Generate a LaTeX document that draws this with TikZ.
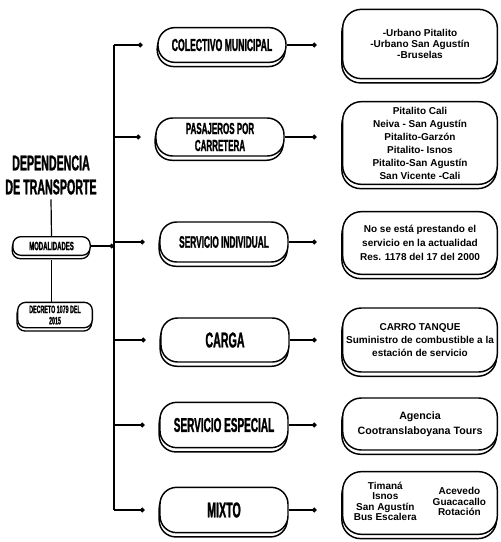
\documentclass[tikz,border=0pt]{standalone}
\usepackage{fontspec}
\setmainfont{Liberation Sans}
\newfontfamily\condfont{Liberation Sans}[FakeStretch=0.5,FakeBold=1.2]
\usetikzlibrary{shadows,arrows.meta}
\begin{document}
\begin{tikzpicture}[x=0.75pt,y=-0.75pt,
  shad/.style={copy shadow={shadow xshift=-0.6pt, shadow yshift=-3.2pt, draw=black, fill=white, line width=1.1pt}},
  pill/.style={draw, line width=1.1pt, fill=white, rounded corners=12.5pt, minimum width=96pt, minimum height=30pt, align=center, inner sep=2pt, font=\condfont\bfseries, shad},
  small/.style={draw, line width=1pt, fill=white, rounded corners=6pt, align=center, inner sep=1pt, font=\condfont\bfseries, copy shadow={shadow xshift=-0.5pt, shadow yshift=-2.5pt, draw=black, fill=white, line width=1pt}},
  rbox/.style={draw, line width=1.1pt, fill=white, rounded corners=14pt, minimum width=116pt, align=center, inner sep=2pt, font=\bfseries\fontsize{7.5}{9.75}\selectfont, shad},
  conn/.style={line width=0.9pt},
  tip/.style={conn, -{Circle[length=3.5pt]}},
]
\useasboundingbox (0,0) rectangle (500,542);
\coordinate (trunk) at (114,0);

% left column
\node[align=center, font=\condfont\bfseries\fontsize{16}{18}\selectfont] (dep) at (51,175) {DEPENDENCIA\\DE TRANSPORTE};
\node[small, minimum width=58pt, minimum height=14pt, font=\condfont\bfseries\fontsize{9}{10}\selectfont] (mod) at (51.5,246) {MODALIDADES};
\node[small, minimum width=56pt, minimum height=19pt, font=\condfont\bfseries\fontsize{8}{8.5}\selectfont] (dec) at (55,315) {DECRETO 1079 DEL\\2015};

% middle column
\node[pill, minimum height=26pt, font=\condfont\bfseries\fontsize{13}{14}\selectfont] (c1) at (222,45) {COLECTIVO MUNICIPAL};
\node[pill, minimum height=28.5pt, font=\condfont\bfseries\fontsize{12}{12.75}\selectfont] (c2) at (220,137) {PASAJEROS POR\\CARRETERA};
\node[pill, minimum height=30pt, font=\condfont\bfseries\fontsize{12.5}{14}\selectfont] (c3) at (224,242) {SERVICIO INDIVIDUAL};
\node[pill, minimum height=33pt, font=\condfont\bfseries\fontsize{16}{17}\selectfont] (c4) at (225,340) {CARGA};
\node[pill, minimum height=34pt, font=\condfont\bfseries\fontsize{15}{16}\selectfont] (c5) at (224,425) {SERVICIO ESPECIAL};
\node[pill, minimum height=34pt, font=\condfont\bfseries\fontsize{16}{17}\selectfont] (c6) at (224,510) {MIXTO};

% right column
\node[rbox, minimum height=52pt, font=\bfseries\fontsize{7.5}{8}\selectfont] (r1) at (420,44) {-Urbano Pitalito\\-Urbano San Agustín\\-Bruselas};
\node[rbox, minimum height=62pt] (r2) at (420,143) {Pitalito Cali\\Neiva - San Agustín\\Pitalito-Garzón\\Pitalito- Isnos\\Pitalito-San Agustín\\San Vicente -Cali};
\node[rbox, minimum height=47pt, font=\bfseries\fontsize{7.5}{10.5}\selectfont] (r3) at (420,243) {No se está prestando el\\servicio en la actualidad\\Res. 1178 del 17 del 2000};
\node[rbox, minimum height=48pt] (r4) at (420,340) {CARRO TANQUE\\Suministro de combustible a la\\estación de servicio};
\node[rbox, minimum height=39pt, font=\bfseries\fontsize{8}{11}\selectfont] (r5) at (420,424) {Agencia\\Cootranslaboyana Tours};
\node[rbox, minimum height=47pt] (r6) at (420,503) {\def\arraystretch{0.78}\begin{tabular}[c]{@{}c@{}}Timaná\\Isnos\\San Agustín\\Bus Escalera\end{tabular}\hspace{12pt}\begin{tabular}[c]{@{}c@{}}Acevedo\\Guacacallo\\Rotación\end{tabular}};

% connectors left
\draw[conn] (dep.south) -- (mod.north);
\draw[conn, shorten <=3pt] (mod.south) -- (mod.south |- dec.north);
\draw[tip] (mod.east) -- (mod.east -| trunk);

% trunk
\draw[conn] (c1.west -| trunk) -- (c6.west -| trunk);
\foreach \n in {c1,c2,c3,c4,c5,c6}{
  \draw[tip, shorten >=11pt] (\n.west -| trunk) -- (\n.west);
}
\foreach \a/\b in {c1/r1,c2/r2,c3/r3,c4/r4,c5/r5,c6/r6}{
  \draw[tip, shorten >=19pt] (\a.east) -- (\a.east -| \b.west);
}
\end{tikzpicture}
\end{document}
